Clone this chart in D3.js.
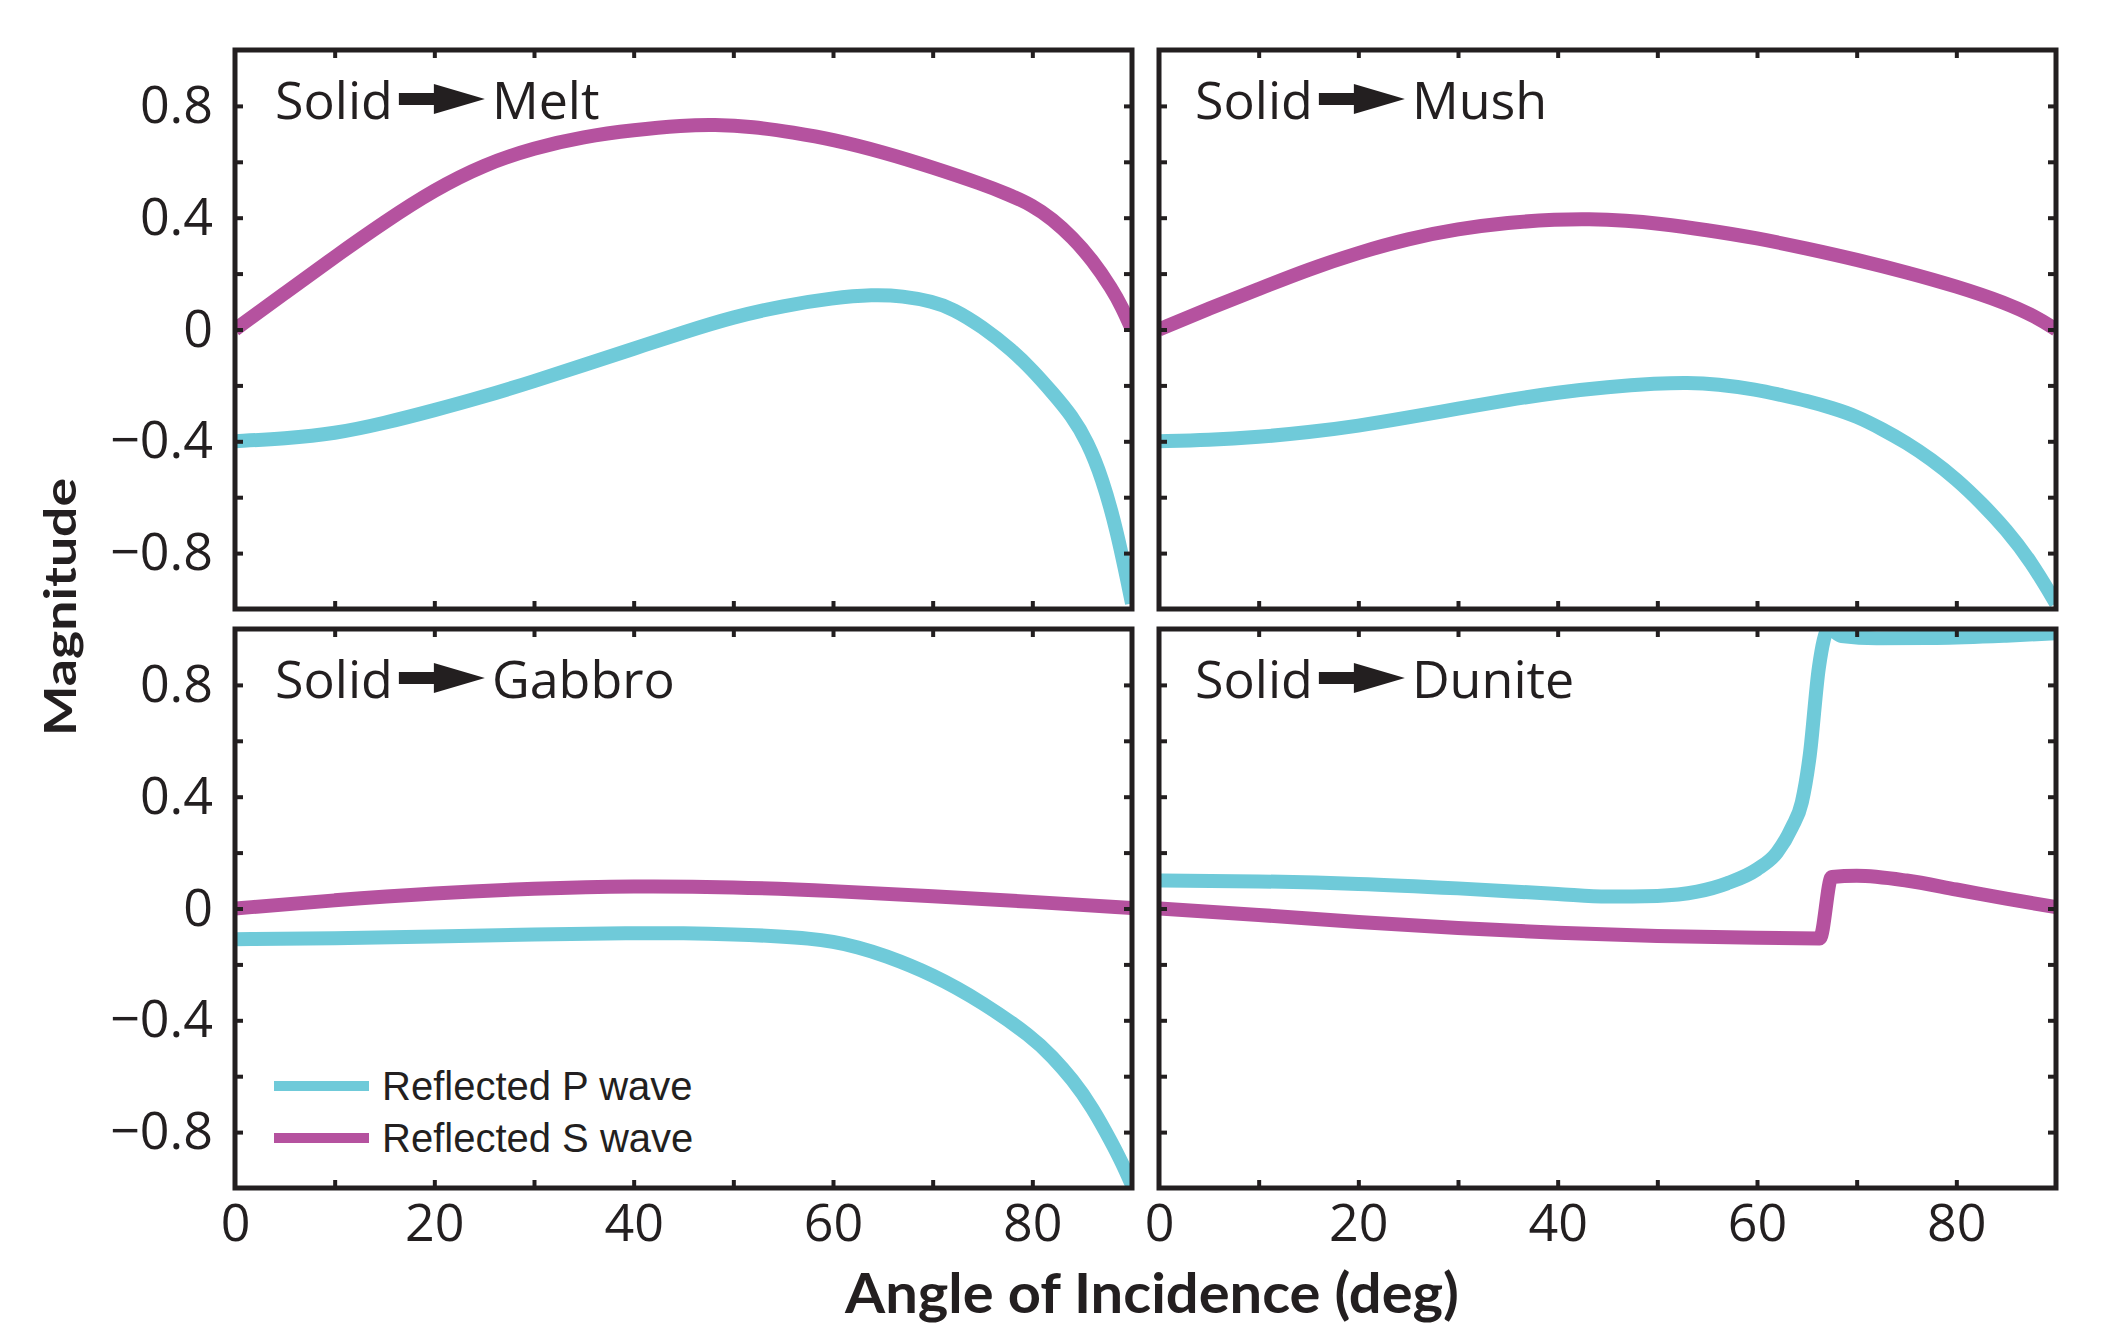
<!doctype html>
<html lang="en">
<head>
<meta charset="utf-8">
<title>Reflected P and S waves vs angle of incidence</title>
<script src="https://d3js.org/d3.v7.min.js"></script>
<style>
  body { margin: 0; background: #fff; }
  svg { display: block; }
  .frame { fill: none; stroke: #231f20; stroke-width: 5; }
  .ticks line { stroke: #231f20; stroke-width: 4; }
  .ticks .domain, .labels .domain, .labels line { display: none; }
  .labels text { font-family: "Open Sans", sans-serif; font-size: 52px; fill: #231f20; }
  .curve { fill: none; stroke-width: 14; stroke-linejoin: round; }
  .title { font-family: "Open Sans", sans-serif; font-size: 52px; fill: #231f20; }
  .legend text { font-family: "Liberation Sans", Arial, sans-serif; font-size: 40px; fill: #231f20; }
  .axis-title { font-family: Lato, sans-serif; font-weight: 700; fill: #231f20; }
</style>
</head>
<body>
<div id="chart"></div>
<script>
// values: [angle of incidence (deg), magnitude]
const meltP = [[0,-0.4],[5,-0.39],[10,-0.373],[15,-0.335],[20,-0.289],[25,-0.24],[30,-0.185],[35,-0.127],
  [40,-0.069],[45,-0.01],[50,0.045],[55,0.085],[60,0.113],[64,0.125],[67,0.12],[70,0.1],[72,0.075],
  [75,0.01],[78,-0.075],[80,-0.145],[82,-0.225],[84,-0.31],[85.5,-0.4],[87,-0.53],[88.5,-0.72],[90,-0.98]];
const meltS = [[0,0],[5,0.13],[10,0.26],[15,0.385],[20,0.5],[25,0.59],[30,0.65],[35,0.69],[40,0.714],
  [45,0.73],[48,0.733],[52,0.726],[56,0.705],[60,0.68],[65,0.635],[70,0.58],[75,0.52],[77.5,0.485],
  [80,0.445],[82,0.395],[84,0.33],[86,0.25],[88,0.145],[89,0.08],[90,0]];

const mushP = [[0,-0.4],[5,-0.396],[10,-0.385],[15,-0.368],[20,-0.345],[25,-0.315],[30,-0.283],[35,-0.252],
  [40,-0.225],[45,-0.205],[50,-0.193],[53,-0.19],[56,-0.195],[60,-0.215],[62.5,-0.235],[65,-0.255],
  [67.5,-0.28],[70,-0.31],[72.5,-0.355],[75,-0.405],[77.5,-0.465],[80,-0.535],[82.5,-0.62],[85,-0.715],
  [87.5,-0.83],[90,-0.98]];
const mushS = [[0,0],[5,0.075],[10,0.145],[15,0.215],[20,0.275],[25,0.325],[30,0.36],[35,0.383],[40,0.394],
  [43,0.396],[47,0.39],[50,0.38],[55,0.356],[60,0.327],[65,0.29],[70,0.25],[75,0.205],[80,0.155],
  [85,0.095],[88,0.045],[90,0]];

const gabbroP = [[0,-0.11],[10,-0.107],[20,-0.1],[30,-0.093],[40,-0.088],[45,-0.088],[50,-0.092],[55,-0.1],
  [57.5,-0.107],[60,-0.118],[62.5,-0.138],[65,-0.165],[70,-0.235],[75,-0.335],[80,-0.46],[82,-0.53],
  [84,-0.61],[86,-0.71],[88,-0.84],[89,-0.91],[90,-0.99]];
const gabbroS = [[0,0],[10,0.03],[20,0.055],[30,0.072],[40,0.081],[50,0.077],[60,0.063],[70,0.044],
  [80,0.024],[90,0.002]];

const duniteP = [[0,0.1],[10,0.097],[20,0.088],[30,0.072],[40,0.052],[45,0.043],[50,0.045],[54,0.06],
  [57,0.09],[60,0.14],[62,0.2],[63.5,0.29],[64.5,0.38],[65.3,0.55],[66.2,0.86],[67.2,1.0],[68.5,0.975],
  [72,0.967],[78,0.968],[85,0.976],[90,0.985]];
const duniteS = [[0,0],[10,-0.023],[20,-0.048],[30,-0.07],[40,-0.087],[50,-0.098],[60,-0.105],
  [66.3,-0.107],[67.5,0.113],[70,0.117],[75,0.1],[80,0.068],[85,0.035],[90,0.005]];

const panelTitles = ['Melt', 'Mush', 'Gabbro', 'Dunite'];
const legendLabels = ['Reflected P wave', 'Reflected S wave'];
const xTickLabels = [0, 20, 40, 60, 80];
const yTickLabels = [-0.8, -0.4, 0, 0.4, 0.8];
const xMinorTicks = [10, 20, 30, 40, 50, 60, 70, 80];
const yMinorTicks = [-0.8, -0.6, -0.4, -0.2, 0, 0.2, 0.4, 0.6, 0.8];

const colorP = '#6fcad9';
const colorS = '#b5529f';

// layout
const W = 2108, H = 1341;
const pw = 897, ph = 559;
const cols = [235, 1159];
const rows = [50, 629];

// smooth panels use a b-spline, dunite keeps its sharp jumps with monotone
const panels = [
  { title: panelTitles[0], P: meltP, S: meltS, col: 0, row: 0, curve: d3.curveBasis },
  { title: panelTitles[1], P: mushP, S: mushS, col: 1, row: 0, curve: d3.curveBasis },
  { title: panelTitles[2], P: gabbroP, S: gabbroS, col: 0, row: 1, curve: d3.curveBasis, legend: true },
  { title: panelTitles[3], P: duniteP, S: duniteS, col: 1, row: 1, curve: d3.curveMonotoneX }
];

const svg = d3.select('#chart').append('svg')
  .attr('width', W)
  .attr('height', H);

const yFmt = d => d === 0 ? '0' : d3.format('.1f')(d); // d3 v7 gives a real minus sign

panels.forEach((p, i) => {
  const x0 = cols[p.col], y0 = rows[p.row];
  const x = d3.scaleLinear().domain([0, 90]).range([x0, x0 + pw]);
  const y = d3.scaleLinear().domain([-1, 1]).range([y0 + ph, y0]);
  const g = svg.append('g');

  svg.append('clipPath').attr('id', 'clip' + i)
    .append('rect').attr('x', x0).attr('y', y0).attr('width', pw).attr('height', ph);

  const line = d3.line()
    .x(d => x(d[0]))
    .y(d => y(d[1]))
    .curve(p.curve);

  g.append('g').attr('clip-path', `url(#clip${i})`)
    .selectAll('path')
    .data([{ v: p.S, c: colorS }, { v: p.P, c: colorP }])
    .join('path')
    .attr('class', 'curve')
    .attr('stroke', d => d.c)
    .attr('d', d => line(d.v));

  // inward ticks on all four sides
  g.append('g').attr('class', 'ticks').attr('transform', `translate(0,${y0 + ph})`)
    .call(d3.axisBottom(x).tickValues(xMinorTicks).tickSize(-8).tickFormat(''));
  g.append('g').attr('class', 'ticks').attr('transform', `translate(0,${y0})`)
    .call(d3.axisTop(x).tickValues(xMinorTicks).tickSize(-8).tickFormat(''));
  g.append('g').attr('class', 'ticks').attr('transform', `translate(${x0},0)`)
    .call(d3.axisLeft(y).tickValues(yMinorTicks).tickSize(-8).tickFormat(''));
  g.append('g').attr('class', 'ticks').attr('transform', `translate(${x0 + pw},0)`)
    .call(d3.axisRight(y).tickValues(yMinorTicks).tickSize(-8).tickFormat(''));

  g.append('rect').attr('class', 'frame')
    .attr('x', x0).attr('y', y0).attr('width', pw).attr('height', ph);

  if (p.col === 0) {
    g.append('g').attr('class', 'labels').attr('transform', `translate(${x0},0)`)
      .call(d3.axisLeft(y).tickValues(yTickLabels).tickSize(0).tickPadding(22).tickFormat(yFmt));
  }
  if (p.row === 1) {
    g.append('g').attr('class', 'labels').attr('transform', `translate(0,${y0 + ph})`)
      .call(d3.axisBottom(x).tickValues(xTickLabels).tickSize(0).tickPadding(16).tickFormat(d3.format('d')));
  }

  // "Solid ➜ X" title
  const tx = x0 + (p.col === 0 ? 40 : 36), ty = y0 + 69;
  const solid = g.append('text').attr('class', 'title').attr('x', tx).attr('y', ty).text('Solid');
  const ax = tx + solid.node().getComputedTextLength() + 6, ay = ty - 20;
  g.append('path')
    .attr('fill', '#231f20')
    .attr('d', `M${ax},${ay - 6}H${ax + 35}V${ay - 15}L${ax + 86},${ay}L${ax + 35},${ay + 15}V${ay + 6}H${ax}Z`);
  g.append('text').attr('class', 'title').attr('x', ax + 93).attr('y', ty).text(p.title);

  if (p.legend) {
    const lg = g.append('g').attr('class', 'legend');
    const items = [{ label: legendLabels[0], c: colorP }, { label: legendLabels[1], c: colorS }];
    items.forEach((it, k) => {
      const ly = y0 + 457 + k * 52;
      lg.append('line')
        .attr('x1', x0 + 39).attr('x2', x0 + 134)
        .attr('y1', ly).attr('y2', ly)
        .attr('stroke', it.c).attr('stroke-width', 10);
      lg.append('text').attr('x', x0 + 147).attr('y', ly + 14).text(it.label);
    });
  }
});

// axis titles
svg.append('text').attr('class', 'axis-title')
  .attr('x', 1152).attr('y', 1313)
  .attr('text-anchor', 'middle')
  .attr('font-size', 56)
  .attr('textLength', 614).attr('lengthAdjust', 'spacingAndGlyphs')
  .text('Angle of Incidence (deg)');

svg.append('text').attr('class', 'axis-title')
  .attr('transform', 'translate(76,607) rotate(-90)')
  .attr('text-anchor', 'middle')
  .attr('font-size', 44)
  .attr('textLength', 258).attr('lengthAdjust', 'spacingAndGlyphs')
  .text('Magnitude');
</script>
</body>
</html>
